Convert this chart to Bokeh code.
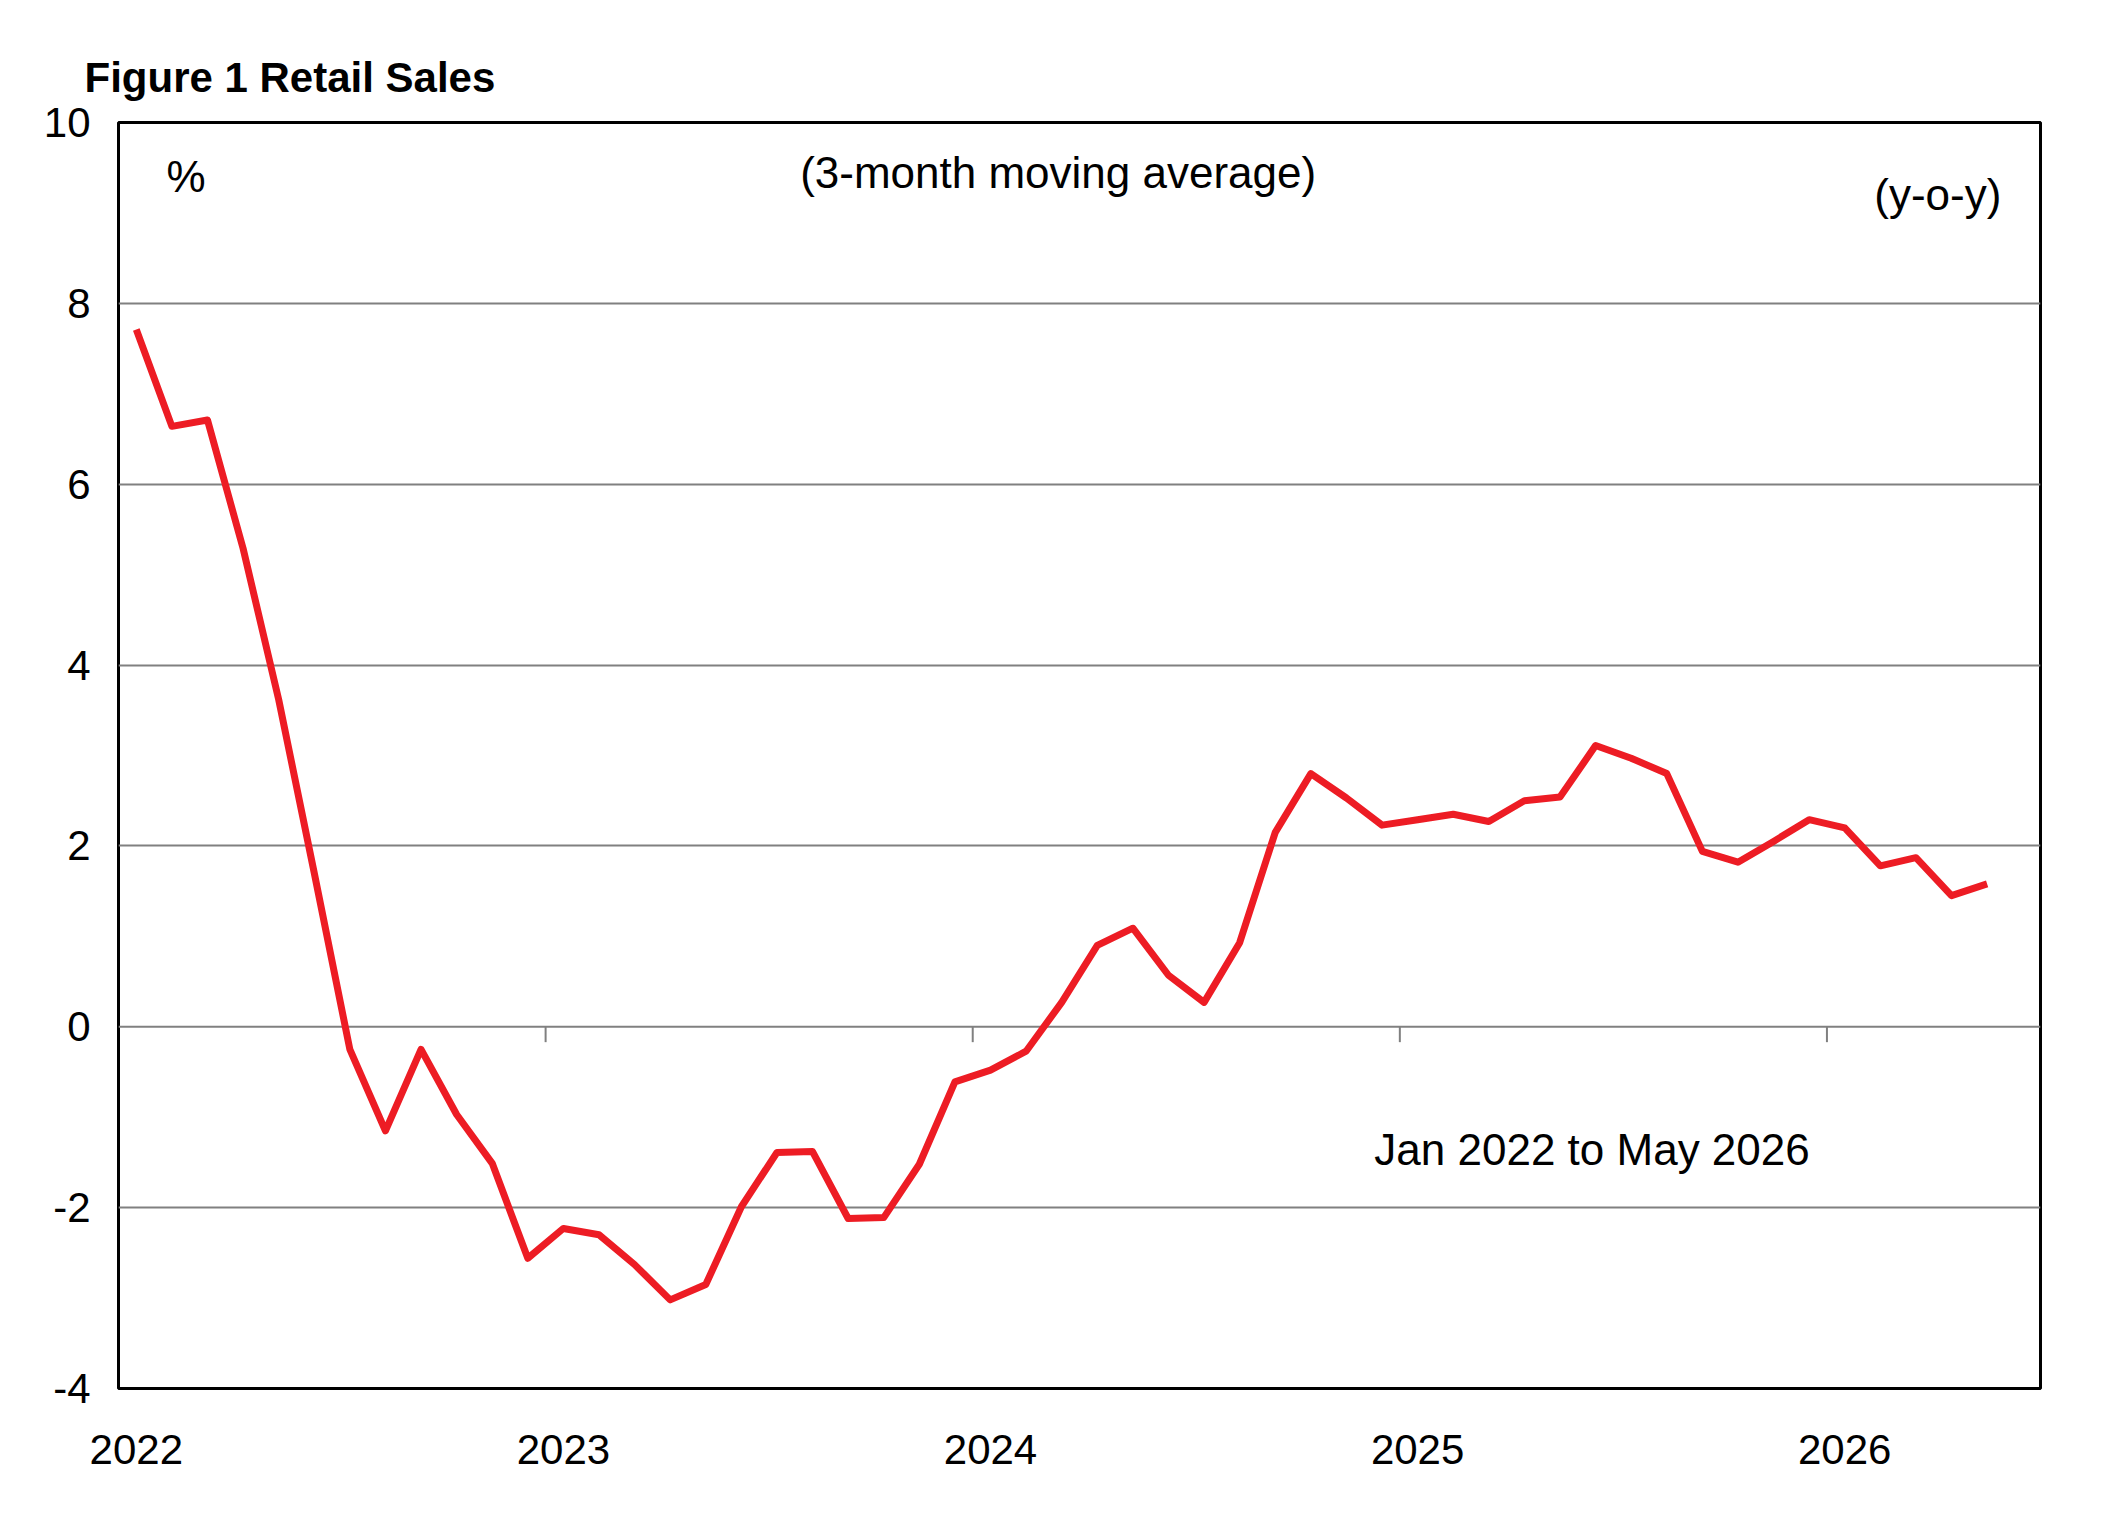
import math
from bokeh.plotting import figure
from bokeh.models import Label, FixedTicker, Range1d
from bokeh.embed import file_html
from bokeh.resources import INLINE

values = [7.71, 6.64, 6.71, 5.29, 3.62, 1.70, -0.25, -1.15, -0.25, -0.97, -1.51, -2.56,
          -2.23, -2.30, -2.63, -3.02, -2.85, -1.99, -1.39, -1.38, -2.12, -2.11, -1.52, -0.61,
          -0.48, -0.27, 0.27, 0.90, 1.09, 0.57, 0.27, 0.93, 2.15, 2.80, 2.53, 2.23,
          2.29, 2.35, 2.27, 2.50, 2.54, 3.11, 2.97, 2.80, 1.94, 1.82, 2.05, 2.29,
          2.20, 1.78, 1.87, 1.45, 1.58]
months = list(range(len(values)))
year_labels = ["2022", "2023", "2024", "2025", "2026"]
year_pos = [0, 12, 24, 36, 48]
y_ticks = [-4, -2, 0, 2, 4, 6, 8, 10]

FONT = "Liberation Sans"
p = figure(width=2100, height=1500, output_backend="svg", toolbar_location=None,
           x_range=Range1d(-0.5, 53.5), y_range=Range1d(-4, 10),
           min_border_left=118, min_border_right=60, min_border_top=122, min_border_bottom=112)
p.title.text = "Figure 1 Retail Sales"
p.title.text_font = FONT
p.title.text_font_size = "42px"
p.title.text_font_style = "bold"
p.title.text_color = "black"
p.title.align = "left"
p.title.offset = -34
p.title.standoff = 44
p.outline_line_color = "black"
p.outline_line_width = 3
p.background_fill_color = "white"

p.yaxis.ticker = FixedTicker(ticks=y_ticks)
p.yaxis.major_label_overrides = {t: str(t) for t in y_ticks}
p.xaxis.ticker = FixedTicker(ticks=year_pos)
p.xaxis.major_label_overrides = {k: v for k, v in zip(year_pos, year_labels)}
for ax in (p.xaxis, p.yaxis):
    ax.axis_line_color = None
    ax.major_tick_line_color = None
    ax.minor_tick_line_color = None
    ax.major_label_text_font = FONT
    ax.major_label_text_font_size = "42px"
    ax.major_label_text_color = "black"
p.xaxis.major_label_standoff = 40
p.yaxis.major_label_standoff = 22
p.xgrid.grid_line_color = None
p.ygrid.ticker = FixedTicker(ticks=[-2, 2, 4, 6, 8])
p.ygrid.grid_line_color = "#808080"
p.ygrid.grid_line_width = 2

p.line([-0.5, 53.5], [0, 0], line_color="#808080", line_width=2)
p.segment(x0=[11.5, 23.5, 35.5, 47.5], y0=[0, 0, 0, 0], x1=[11.5, 23.5, 35.5, 47.5],
          y1=[-0.17] * 4, line_color="#808080", line_width=2)

p.line(months, values, line_color="#ED1C24", line_width=7, line_join="round")

def lab(x, y, t, align="center", size="44px", angle=0.0):
    p.add_layout(Label(x=x, y=y, text=t, text_font=FONT, text_font_size=size,
                       text_color="black", text_align=align, text_baseline="middle",
                       angle=angle))

lab(1.4, 9.4, "%")
lab(25.9, 9.45, "(3-month moving average)")
lab(52.4, 9.2, "(y-o-y)", align="right")
lab(40.9, -1.36, "Jan 2022 to May 2026")
lab(54.4, -1.66, "Source: Eurostat", size="32px", angle=math.pi / 2)

open("out.html", "w").write(file_html(p, INLINE))
